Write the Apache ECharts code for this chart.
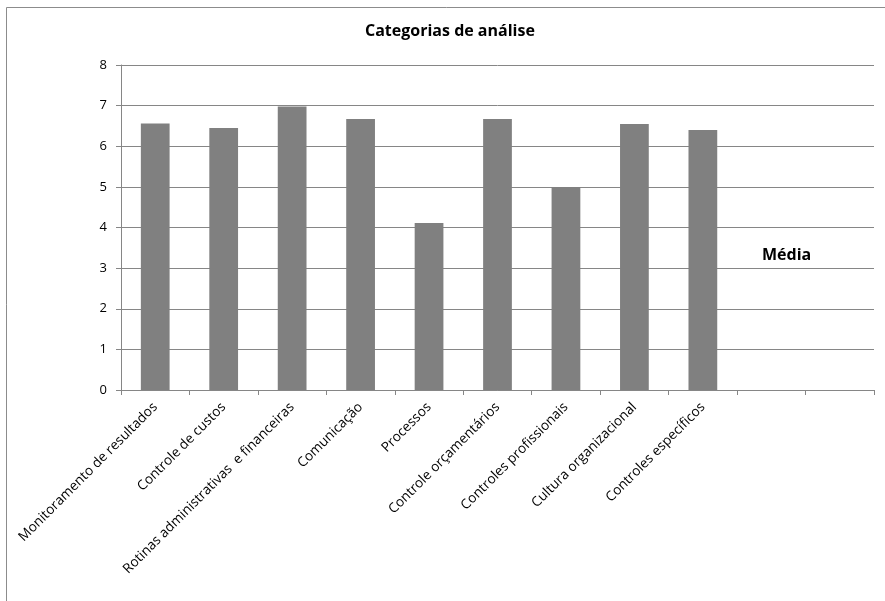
<!DOCTYPE html>
<html><head><meta charset="utf-8">
<script src="https://cdn.jsdelivr.net/npm/echarts@6/dist/echarts.min.js"></script>
<style>html,body{margin:0;padding:0;background:#fff}#c{width:885px;height:601px}</style>
</head><body><div id="c"></div>
<script>
const categories = ["Monitoramento de resultados","Controle de custos","Rotinas administrativas  e financeiras","Comunicação","Processos","Controle orçamentários","Controles profissionais","Cultura organizacional","Controles específicos","",""];
const values = [6.56, 6.45, 6.98, 6.67, 4.11, 6.67, 5.0, 6.55, 6.40, null, null];
const yTicks = [0,1,2,3,4,5,6,7,8];
const seriesName = "Média";
const titleText = "Categorias de análise";

const font = "'Open Sans', sans-serif";
const chart = echarts.init(document.getElementById('c'), null, {renderer:'canvas'});
chart.setOption({
  animation:false,
  backgroundColor:'#fff',
  graphic:[{type:'rect',shape:{x:6.5,y:7.5,width:900,height:700},style:{fill:null,stroke:'#8c8c8c',lineWidth:1}}],
  title:{text:titleText,left:365,top:23,padding:0,textStyle:{fontFamily:font,fontSize:16,fontWeight:'bold',color:'#000'}},
  legend:{data:[{name:seriesName,icon:'none'}],left:752,top:242,itemWidth:0,itemGap:0,textStyle:{fontFamily:font,fontSize:16,fontWeight:'bold',color:'#000'},selectedMode:false},
  grid:{left:121,right:11,top:65,bottom:211,containLabel:false},
  xAxis:{type:'category',data:categories,
    axisLine:{lineStyle:{color:'#868686'}},
    axisTick:{show:true,length:5,lineStyle:{color:'#868686'},alignWithLabel:false},
    axisLabel:{rotate:45,interval:0,fontFamily:font,fontSize:13.6,color:'#000',margin:15}},
  yAxis:{type:'value',min:yTicks[0],max:yTicks[yTicks.length-1],interval:1,
    axisLine:{show:true,lineStyle:{color:'#868686'}},
    axisTick:{show:true,length:5,lineStyle:{color:'#868686'}},
    splitLine:{lineStyle:{color:'#868686'}},
    axisLabel:{fontFamily:font,fontSize:13,color:'#000',margin:14}},
  series:[{name:seriesName,type:'bar',data:values,barWidth:'42%',itemStyle:{color:'#808080'}}]
});
</script></body></html>
